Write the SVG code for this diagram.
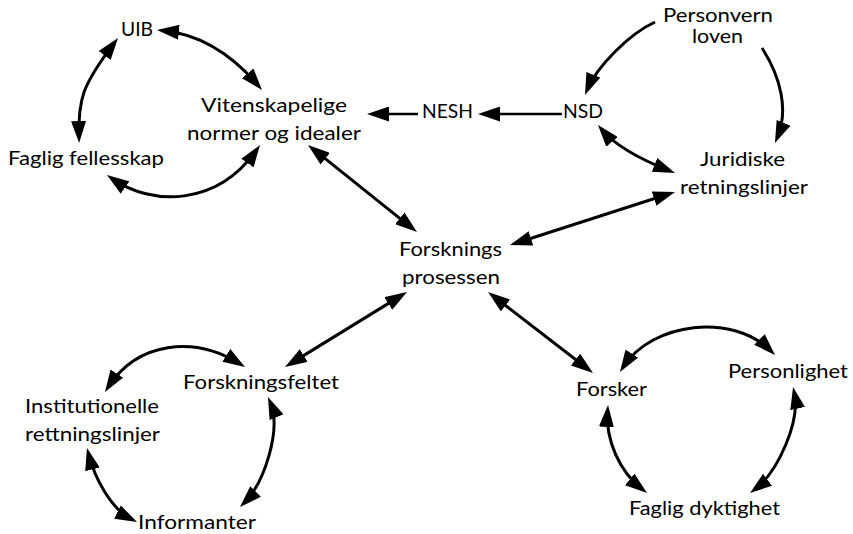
<svg xmlns="http://www.w3.org/2000/svg" width="853" height="534" viewBox="0 0 853 534">
<style>
text{font-family:Lato,"Liberation Sans",sans-serif;font-size:20px;fill:#000}
.sm{font-size:19px}
.c{fill:none;stroke:#000;stroke-width:3}
.s{fill:none;stroke:#000;stroke-width:2.5}
.d{marker-start:url(#ah);marker-end:url(#ah)}
.e{marker-end:url(#ah)}
</style>
<defs>
<marker id="ah" viewBox="0 0 22 15" refX="16" refY="7.5" markerWidth="22" markerHeight="15" markerUnits="userSpaceOnUse" orient="auto-start-reverse"><path d="M0,0 L22,7.5 L0,15 z" fill="#000"/></marker>
</defs>
<rect width="853" height="534" fill="#fff"/>
<g id="connectors">
<path class="c d" d="M163,30.6 Q215.7,35.9 258.1,85.4"/>
<path class="c d" d="M114.4,42.8 C82,85 78,100 79,137"/>
<path class="c d" d="M111.9,178.4 C152,206.4 217,206.5 256.6,149.9"/>
<path class="s e" d="M418,114 L373,114"/>
<path class="s e" d="M562,114 L484,114"/>
<path class="c e" d="M655,22 C628,34.6 596.4,67.4 587.3,89.5"/>
<path class="c e" d="M762,48 C781,77.4 788.7,110.8 777.3,137.5"/>
<path class="c d" d="M601.8,129.6 C617.2,148.1 647.1,161.9 669.4,170.8"/>
<path class="c d" d="M515.7,243.2 L669.3,193.8"/>
<path class="c d" d="M312.7,148.7 L412.3,228.3"/>
<path class="c d" d="M290.1,363.9 L401.9,295.1"/>
<path class="c d" d="M492.8,295.7 L588.2,369.3"/>
<path class="c d" d="M623.2,367 C652.4,321.6 733,313 770.8,350.8"/>
<path class="c d" d="M607.6,411 C605.5,440 619.4,471.3 642.3,489.3"/>
<path class="c d" d="M794.3,392.9 C800.4,421.3 778,472 754.8,489.4"/>
<path class="c d" d="M108.2,387 C137.4,341.6 194,335.2 239.9,363.8"/>
<path class="c d" d="M270.3,402.5 C281.65,429.2 264.5,482.5 244.2,502.8"/>
<path class="c d" d="M88.5,453.8 C94.5,477.1 110.3,508.5 131.7,519.3"/>
</g>
<g id="uib"><text x="121" y="36" textLength="32" lengthAdjust="spacingAndGlyphs">UIB</text></g>
<g id="vitenskapelige"><text x="201" y="112" textLength="146" lengthAdjust="spacingAndGlyphs">Vitenskapelige</text><text x="187" y="140" textLength="174" lengthAdjust="spacingAndGlyphs">normer og idealer</text></g>
<g id="faglig-fellesskap"><text x="8" y="165" textLength="156" lengthAdjust="spacingAndGlyphs">Faglig fellesskap</text></g>
<g id="nesh"><text x="422" y="118" textLength="51" lengthAdjust="spacingAndGlyphs">NESH</text></g>
<g id="nsd"><text x="563" y="118" textLength="40" lengthAdjust="spacingAndGlyphs">NSD</text></g>
<g id="personvernloven"><text class="sm" x="663" y="22" textLength="110" lengthAdjust="spacingAndGlyphs">Personvern</text><text class="sm" x="692" y="43" textLength="51" lengthAdjust="spacingAndGlyphs">loven</text></g>
<g id="juridiske"><text x="700" y="166" textLength="85" lengthAdjust="spacingAndGlyphs">Juridiske</text><text x="680" y="194" textLength="128" lengthAdjust="spacingAndGlyphs">retningslinjer</text></g>
<g id="forskningsprosessen"><text x="399" y="256" textLength="103" lengthAdjust="spacingAndGlyphs">Forsknings</text><text x="402" y="284" textLength="98" lengthAdjust="spacingAndGlyphs">prosessen</text></g>
<g id="forskningsfeltet"><text x="183" y="389" textLength="156" lengthAdjust="spacingAndGlyphs">Forskningsfeltet</text></g>
<g id="institutionelle"><text x="25" y="413" textLength="134" lengthAdjust="spacingAndGlyphs">Institutionelle</text><text x="25" y="441" textLength="135" lengthAdjust="spacingAndGlyphs">rettningslinjer</text></g>
<g id="informanter"><text x="138" y="529" textLength="118" lengthAdjust="spacingAndGlyphs">Informanter</text></g>
<g id="forsker"><text x="576" y="396" textLength="71" lengthAdjust="spacingAndGlyphs">Forsker</text></g>
<g id="personlighet"><text x="728" y="378" textLength="120" lengthAdjust="spacingAndGlyphs">Personlighet</text></g>
<g id="faglig-dyktighet"><text x="629" y="515" textLength="151" lengthAdjust="spacingAndGlyphs">Faglig dyktighet</text></g>
</svg>
